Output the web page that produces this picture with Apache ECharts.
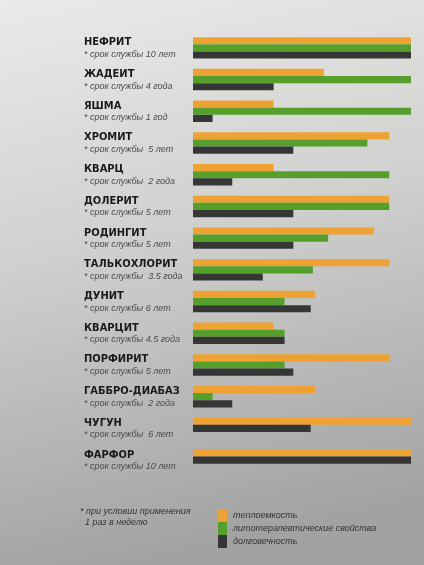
<!DOCTYPE html>
<html><head><meta charset="utf-8">
<script src="https://cdn.jsdelivr.net/npm/echarts@6/dist/echarts.min.js"></script>
<style>html,body{margin:0;padding:0;}#c{width:424px;height:565px;}</style>
</head><body><div id="c"></div>
<script>
const categories = ['НЕФРИТ','ЖАДЕИТ','ЯШМА','ХРОМИТ','КВАРЦ','ДОЛЕРИТ','РОДИНГИТ','ТАЛЬКОХЛОРИТ','ДУНИТ','КВАРЦИТ','ПОРФИРИТ','ГАББРО-ДИАБАЗ','ЧУГУН','ФАРФОР'];
const lifetimes = ['* срок службы 10 лет','* срок службы 4 года','* срок службы 1 год','* срок службы  5 лет','* срок службы  2 года','* срок службы 5 лет','* срок службы 5 лет','* срок службы  3.5 года','* срок службы 6 лет','* срок службы 4.5 года','* срок службы 5 лет','* срок службы  2 года','* срок службы  6 лет','* срок службы 10 лет'];
const seriesNames = ['теплоемкость','литотерапевтические свойства','долговечность'];
const heatCapacity = [100,60,37,90,37,90,83,90,56,37,90,56,100,100];
const healing      = [100,100,100,80,90,90,62,55,42,42,42,9,null,null];
const durability   = [100,37,9,46,18,46,46,32,54,42,46,18,54,100];
const footnote = ['* при условии применения','1 раз в неделю'];

const allSeries = [heatCapacity, healing, durability];
const colors = ['#eea233','#55a02c','#363636'];

function makeRender(si){
  return function(params, api){
    const cat = api.value(1);
    const present = [];
    for (let k=0;k<3;k++){ if (allSeries[k][cat] != null) present.push(k); }
    const idx = present.indexOf(si);
    const band = api.size([0,1])[1];
    const h = band*0.225;
    const c0 = api.coord([0, cat]);
    const c1 = api.coord([api.value(0), cat]);
    const total = 3*h;
    const y = c0[1] - total/2 + idx*h;
    return {type:'rect', shape:{x:c0[0], y:y, width:c1[0]-c0[0], height:h},
      style:{fill: colors[si]}};
  };
}

const chart = echarts.init(document.getElementById('c'));
chart.setOption({
  backgroundColor: {type:'linear', x:0, y:0, x2:0.3, y2:1, colorStops:[
    {offset:0, color:'#eaeae9'},{offset:0.45, color:'#d0d0cf'},{offset:1, color:'#a2a2a2'}]},
  animation:false,
  grid:{left:193, right:13, top:32, bottom:89},
  xAxis:{type:'value', min:0, max:100, show:false},
  yAxis:{type:'category', data:categories, inverse:true,
    axisLine:{show:false}, axisTick:{show:false},
    axisLabel:{align:'left', margin:109,
      formatter:(v, i)=> '{n|'+v+'}\n{s|'+lifetimes[i]+'}',
      rich:{
        n:{fontFamily:'DejaVu Sans Condensed', fontWeight:'bold', fontSize:11, color:'#1a1a1a', lineHeight:13},
        s:{fontFamily:'Liberation Sans', fontStyle:'italic', fontSize:9, color:'#4a4a4a', lineHeight:11}
      }}},
  legend:{orient:'vertical', left:213, top:504, itemWidth:9, itemHeight:13, itemGap:0,
    icon:'rect', textStyle:{fontFamily:'Liberation Sans', fontStyle:'italic', fontSize:9, color:'#333', padding:[0,0,0,1]},
    data:seriesNames},
  graphic:[{type:'text', left:80, top:506, style:{text:footnote.join('\n  '), fontFamily:'Liberation Sans', fontStyle:'italic', fontSize:9, lineHeight:11, fill:'#333'}}],
  series: seriesNames.map((nm, si)=>({
    type:'custom', name:nm, itemStyle:{color:colors[si]},
    renderItem: makeRender(si),
    encode:{x:0, y:1},
    data: allSeries[si].map((v,i)=> v==null ? null : [v, i]).filter(d=>d)
  }))
});
</script></body></html>
